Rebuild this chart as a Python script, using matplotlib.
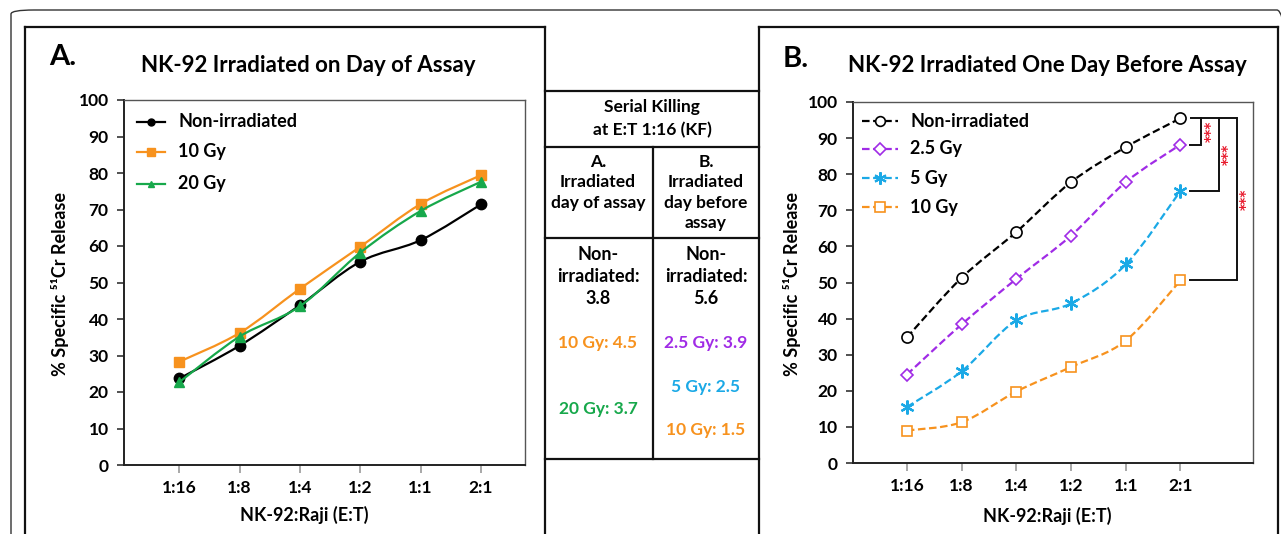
import matplotlib
matplotlib.use("Agg")
import matplotlib.pyplot as plt
from matplotlib.path import Path
from matplotlib.patches import PathPatch, FancyBboxPatch
from matplotlib.lines import Line2D
import numpy as np

plt.rcParams['font.family'] = ['Lato', 'DejaVu Sans']
plt.rcParams['font.weight'] = 'bold'

# ---------------- data ----------------
categories = ["1:16", "1:8", "1:4", "1:2", "1:1", "2:1"]
yticks = [0, 10, 20, 30, 40, 50, 60, 70, 80, 90, 100]

a_labels = ["Non-irradiated", "10 Gy", "20 Gy"]
a_nonirr = [23.7, 32.7, 43.8, 55.7, 61.6, 71.4]
a_10gy = [28.3, 36.2, 48.3, 59.8, 71.5, 79.4]
a_20gy = [22.7, 35.2, 43.5, 58.2, 69.6, 77.6]

b_labels = ["Non-irradiated", "2.5 Gy", "5 Gy", "10 Gy"]
b_nonirr = [34.8, 51.3, 64.0, 77.8, 87.5, 95.5]
b_25gy = [24.5, 38.4, 51.0, 63.0, 77.8, 88.2]
b_5gy = [15.5, 25.4, 39.5, 44.2, 55.0, 75.4]
b_10gy = [9.0, 11.3, 19.8, 26.6, 33.9, 50.6]

sig_label = "***"

table_title = ["Serial Killing", "at E:T 1:16 (KF)"]
table_head_a = ["A.", "Irradiated", "day of assay"]
table_head_b = ["B.", "Irradiated", "day before", "assay"]
table_a_nonirr = ["Non-", "irradiated:", "3.8"]
table_b_nonirr = ["Non-", "irradiated:", "5.6"]
table_a_vals = ["10 Gy: 4.5", "20 Gy: 3.7"]
table_b_vals = ["2.5 Gy: 3.9", "5 Gy: 2.5", "10 Gy: 1.5"]

# ---------------- styles ----------------
BLACK = "#000000"
ORANGE = "#F7921E"
GREEN = "#17A84B"
PURPLE = "#A02BE6"
BLUE = "#1BA9E6"

W, H = 1281, 534
fig = plt.figure(figsize=(W / 100, H / 100), dpi=100)


def fx(px):
    return px / W


def fy(py):
    return 1 - py / H


def smooth_path(xs, ys):
    pts = np.column_stack([xs, ys]).astype(float)
    n = len(pts)
    verts = [pts[0]]
    codes = [Path.MOVETO]
    for i in range(n - 1):
        p0 = pts[i - 1] if i > 0 else pts[i]
        p1 = pts[i]
        p2 = pts[i + 1]
        p3 = pts[i + 2] if i + 2 < n else pts[i + 1]
        c1 = p1 + (p2 - p0) / 6.0
        c2 = p2 - (p3 - p1) / 6.0
        verts += [c1, c2, p2]
        codes += [Path.CURVE4] * 3
    return Path(verts, codes)


def style_axes(ax, xlim, xlab_pos, ylab_x):
    ax.set_xlim(*xlim)
    ax.set_ylim(0, 100)
    ax.set_yticks(yticks)
    ax.set_yticklabels([str(t) for t in yticks], fontsize=12.5, fontweight='bold')
    ax.set_xticks(range(len(categories)))
    ax.set_xticklabels(categories, fontsize=12.5, fontweight='bold')
    for s in ['left', 'bottom']:
        ax.spines[s].set_color('#222222')
        ax.spines[s].set_linewidth(1.4)
    for s in ['top', 'right']:
        ax.spines[s].set_color('#555555')
        ax.spines[s].set_linewidth(1.0)
    ax.tick_params(axis='y', direction='out', length=5, width=1.2, color='#333333', pad=6)
    ax.tick_params(axis='x', direction='out', length=6, width=1.2, color='#999999', pad=5)
    ax.set_xlabel("NK-92:Raji (E:T)", fontsize=13, fontweight='bold')
    ax.set_ylabel("% Specific \u2075\u00b9Cr Release", fontsize=13, fontweight='bold')
    ax.xaxis.set_label_coords(*xlab_pos)
    ax.yaxis.set_label_coords(ylab_x, 0.496)
    ax.xaxis.label.set_va('center')
    ax.yaxis.label.set_va('center')


def draw_series(ax, ys, color, marker, ms, dashed, mfc, mew, z):
    xs = np.arange(len(ys))
    patch = PathPatch(smooth_path(xs, ys), fill=False, edgecolor=color, lw=1.6,
                      zorder=z, transform=ax.transData)
    if dashed:
        patch.set_linestyle((0, (3.4, 1.6)))
    ax.add_patch(patch)
    ax.plot(xs, ys, linestyle='none', marker=marker, ms=ms, mfc=mfc, mec=color,
            mew=mew, zorder=z + 0.5, clip_on=False)


def legend_row(ax, x0, x1, xt, y, color, marker, ms, dashed, mfc, mew, label):
    ls = (0, (3.4, 1.6)) if dashed else '-'
    ax.add_line(Line2D([x0, x1], [y, y], transform=ax.transAxes, color=color, lw=1.6,
                       linestyle=ls))
    ax.add_line(Line2D([(x0 + x1) / 2], [y], transform=ax.transAxes, linestyle='none',
                       marker=marker, ms=ms, mfc=mfc, mec=color, mew=mew))
    ax.text(xt, y, label, transform=ax.transAxes, fontsize=13, fontweight='bold',
            va='center', ha='left')


# ---------------- Panel A ----------------
axA = fig.add_axes([fx(124), fy(465), fx(525) - fx(124), fy(100) - fy(465)])
style_axes(axA, (-0.917, 5.73), (0.449, -0.137), -0.160)
draw_series(axA, a_nonirr, BLACK, 'o', 7.5, False, BLACK, 1, 3)
draw_series(axA, a_10gy, ORANGE, 's', 7.5, False, ORANGE, 1, 4)
draw_series(axA, a_20gy, GREEN, '^', 7.5, False, GREEN, 1, 5)

legA = [(a_labels[0], BLACK, 'o', 5), (a_labels[1], ORANGE, 's', 6), (a_labels[2], GREEN, '^', 5)]
for (lab, c, m, ms), yy in zip(legA, [0.940, 0.858, 0.770]):
    legend_row(axA, 0.032, 0.102, 0.135, yy, c, m, ms, False, c, 1, lab)

# ---------------- Panel B ----------------
axB = fig.add_axes([fx(853), fy(463), fx(1253) - fx(853), fy(102) - fy(463)])
style_axes(axB, (-0.985, 6.325), (0.485, -0.147), -0.1525)
asterisk = (6, 2, 0)
draw_series(axB, b_nonirr, BLACK, 'o', 8, True, 'white', 1.2, 3)
draw_series(axB, b_25gy, PURPLE, 'D', 6.5, True, 'white', 1.2, 4)
draw_series(axB, b_5gy, BLUE, asterisk, 10, True, BLUE, 1.6, 5)
draw_series(axB, b_10gy, ORANGE, 's', 7.5, True, 'white', 1.2, 6)

legB = [(b_labels[0], BLACK, 'o', 7, 'white', 1.2), (b_labels[1], PURPLE, 'D', 6, 'white', 1.2),
        (b_labels[2], BLUE, asterisk, 9, BLUE, 1.5), (b_labels[3], ORANGE, 's', 7, 'white', 1.2)]
for (lab, c, m, ms, mfc, mew), yy in zip(legB, [0.947, 0.870, 0.789, 0.709]):
    legend_row(axB, 0.0225, 0.1125, 0.1425, yy, c, m, ms, True, mfc, mew, lab)

# significance brackets (at the 2:1 values)
last = len(categories) - 1
top_val = b_nonirr[last]
x_start = last + 0.17
brackets = [(b_25gy[last], 5.37, 5.55), (b_5gy[last], 5.70, 5.86), (b_10gy[last], 6.03, 6.19)]
axB.plot([x_start, brackets[-1][1]], [top_val, top_val], color='#111111', lw=1.4, clip_on=False,
         solid_capstyle='butt')
for val, xb, xs in brackets:
    axB.plot([x_start, xb, xb], [val, val, top_val], color='#111111', lw=1.4, clip_on=False,
             solid_joinstyle='miter')
    axB.text(xs, (val + top_val) / 2, sig_label, rotation=90, color='#E8192C', fontsize=10,
             fontweight='bold', ha='center', va='center', family='DejaVu Sans')

# ---------------- titles / panel letters ----------------
fig.text(fx(308), fy(65), "NK-92 Irradiated on Day of Assay", fontsize=16, fontweight='bold',
         ha='center', va='center')
fig.text(fx(1047), fy(66), "NK-92 Irradiated One Day Before Assay", fontsize=16, fontweight='bold',
         ha='center', va='center')
fig.text(fx(49), fy(57), "A.", fontsize=21, fontweight='bold', ha='left', va='center')
fig.text(fx(783), fy(59), "B.", fontsize=21, fontweight='bold', ha='left', va='center')

# ---------------- frames ----------------
outer = FancyBboxPatch((fx(11), fy(560)), fx(1300) - fx(11), fy(10) - fy(560),
                       boxstyle="round,pad=0,rounding_size=0.018", transform=fig.transFigure,
                       fill=False, ec='#333333', lw=1.0, mutation_aspect=H / W)
fig.add_artist(outer)
for x0, x1 in [(25, 545), (759, 1278)]:
    fig.add_artist(Line2D([fx(x0), fx(x0)], [fy(27), fy(540)], transform=fig.transFigure,
                          color='#111111', lw=1.6))
    fig.add_artist(Line2D([fx(x1), fx(x1)], [fy(27), fy(540)], transform=fig.transFigure,
                          color='#111111', lw=1.6))
    fig.add_artist(Line2D([fx(x0), fx(x1)], [fy(27), fy(27)], transform=fig.transFigure,
                          color='#111111', lw=1.6))

# ---------------- table ----------------
for yy in [91, 147, 238, 459]:
    fig.add_artist(Line2D([fx(545), fx(759)], [fy(yy), fy(yy)], transform=fig.transFigure,
                          color='#111111', lw=1.6))
fig.add_artist(Line2D([fx(653), fx(653)], [fy(147), fy(459)], transform=fig.transFigure,
                      color='#111111', lw=1.6))

tfs = 12.5
cx_mid, cx_a, cx_b = 652, 598, 706
for txt, yy in zip(table_title, [107, 130]):
    fig.text(fx(cx_mid), fy(yy), txt, fontsize=tfs, fontweight='bold', ha='center', va='center')
for txt, yy in zip(table_head_a, [162, 182, 203]):
    fig.text(fx(cx_a), fy(yy), txt, fontsize=tfs, fontweight='bold', ha='center', va='center')
for txt, yy in zip(table_head_b, [162, 182, 203, 223]):
    fig.text(fx(cx_b), fy(yy), txt, fontsize=tfs, fontweight='bold', ha='center', va='center')
for txt, yy in zip(table_a_nonirr, [255, 277, 298]):
    fig.text(fx(cx_a), fy(yy), txt, fontsize=13, fontweight='bold', ha='center', va='center')
for txt, yy in zip(table_b_nonirr, [255, 277, 298]):
    fig.text(fx(cx_b), fy(yy), txt, fontsize=13, fontweight='bold', ha='center', va='center')
for txt, yy, c in zip(table_a_vals, [343, 409], [ORANGE, GREEN]):
    fig.text(fx(cx_a), fy(yy), txt, fontsize=12.5, fontweight='bold', ha='center', va='center', color=c)
for txt, yy, c in zip(table_b_vals, [343, 387, 430], [PURPLE, BLUE, ORANGE]):
    fig.text(fx(cx_b), fy(yy), txt, fontsize=12.5, fontweight='bold', ha='center', va='center', color=c)

fig.savefig("out.png", dpi=100, facecolor='white')
